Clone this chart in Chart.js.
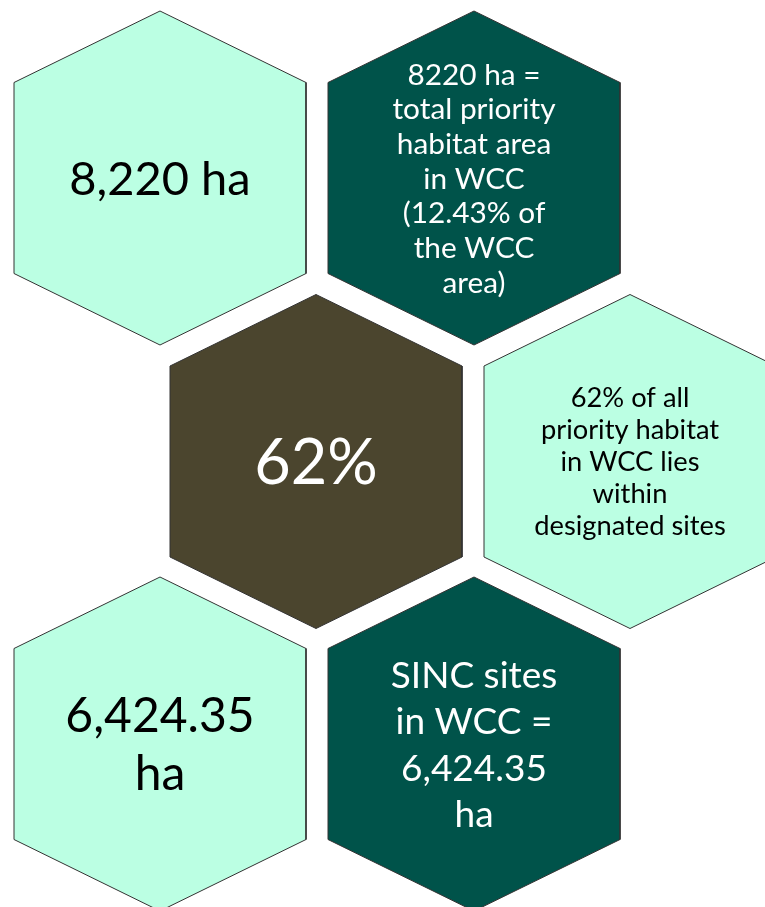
<!DOCTYPE html>
<html>
<head>
<meta charset="utf-8">
<script src="https://cdn.jsdelivr.net/npm/chart.js@4.4.1/dist/chart.umd.min.js"></script>
<style>
  html, body { margin: 0; padding: 0; background: #fff; }
  #wrap { width: 765px; height: 907px; }
</style>
</head>
<body>
<div id="wrap"><canvas id="hexChart"></canvas></div>
<script>
// the figures shown in each hexagon, in reading order
const hexLabels = [
  ['8,220 ha'],
  ['8220 ha =', 'total priority', 'habitat area', 'in WCC', '(12.43% of', 'the WCC', 'area)'],
  ['62%'],
  ['62% of all', 'priority habitat', 'in WCC lies', 'within', 'designated sites'],
  ['6,424.35', 'ha'],
  ['SINC sites', 'in WCC =', '6,424.35', 'ha']
];
const hexKinds = ['light', 'dark', 'accent', 'light', 'light', 'dark'];

// layout (centres in page units) and look
const hexCentres = [[160, 178], [474, 178], [316, 461.5], [630, 461.5], [160, 744], [474, 744]];
const hexHalfW = 146;
const hexHalfH = 167;
const hexShoulder = 95.5;
const fills = { light: '#bbffe3', dark: '#00534a', accent: '#4b452e' };
const inks = { light: '#000000', dark: '#ffffff', accent: '#ffffff' };
const fontSizes = [47, 29.8, 63, 27.3, 48, 37];
const lineHeights = [0, 34.7, 0, 32, 58, 46.5];

function hexPoints(c) {
  const [x, y] = c;
  return [
    { x: x, y: y - hexHalfH },
    { x: x + hexHalfW, y: y - hexShoulder },
    { x: x + hexHalfW, y: y + hexShoulder },
    { x: x, y: y + hexHalfH },
    { x: x - hexHalfW, y: y + hexShoulder },
    { x: x - hexHalfW, y: y - hexShoulder },
    { x: x, y: y - hexHalfH }
  ];
}

const hexText = {
  id: 'hexText',
  afterDatasetsDraw(chart) {
    const { ctx, scales: { x, y } } = chart;
    ctx.save();
    ctx.textAlign = 'center';
    ctx.textBaseline = 'alphabetic';
    hexLabels.forEach((lines, i) => {
      const size = fontSizes[i];
      const lh = lineHeights[i];
      const cx = x.getPixelForValue(hexCentres[i][0]);
      const cy = y.getPixelForValue(hexCentres[i][1]);
      ctx.font = size + 'px Lato';
      ctx.fillStyle = inks[hexKinds[i]];
      const first = cy - (lines.length - 1) * lh / 2 + size * 0.36;
      lines.forEach((line, j) => ctx.fillText(line, cx, first + j * lh));
    });
    ctx.restore();
  }
};

new Chart(document.getElementById('hexChart'), {
  type: 'scatter',
  data: {
    datasets: hexCentres.map((c, i) => ({
      label: hexLabels[i].join(' '),
      data: hexPoints(c),
      showLine: true,
      fill: 'shape',
      tension: 0,
      pointRadius: 0,
      borderWidth: 1,
      borderColor: '#333333',
      backgroundColor: fills[hexKinds[i]]
    }))
  },
  options: {
    responsive: true,
    maintainAspectRatio: false,
    animation: false,
    layout: { padding: 0 },
    plugins: { legend: { display: false }, tooltip: { enabled: false } },
    scales: {
      x: { type: 'linear', min: 0, max: 765, display: false },
      y: { type: 'linear', min: 0, max: 907, reverse: true, display: false }
    }
  },
  plugins: [hexText]
});
</script>
</body>
</html>
